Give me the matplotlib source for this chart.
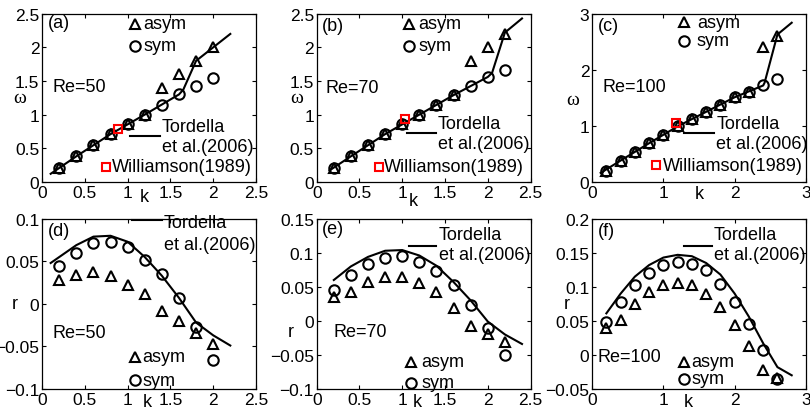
import matplotlib
matplotlib.use("Agg")
import matplotlib.pyplot as plt
from matplotlib.ticker import FuncFormatter

plt.rcParams['font.family'] = ['Liberation Sans', 'DejaVu Sans']
plt.rcParams['font.size'] = 13
plt.rcParams['axes.unicode_minus'] = True

# ---- top row: omega(k) ----
k_a = [0.2, 0.4, 0.6, 0.8, 1.0, 1.2, 1.4, 1.6, 1.8, 2.0]
w_sym_a = [0.2, 0.38, 0.55, 0.71, 0.86, 1.0, 1.15, 1.3, 1.43, 1.55]
w_asym_a = [0.2, 0.38, 0.55, 0.71, 0.86, 1.0, 1.4, 1.6, 1.8, 2.0]
k_line_a = [0.1, 0.4, 0.8, 1.2, 1.6, 1.65, 1.8, 2.0, 2.2]
w_line_a = [0.12, 0.38, 0.71, 1.0, 1.3, 1.37, 1.8, 2.0, 2.2]
will_a = (0.89, 0.78)

k_b = [0.2, 0.4, 0.6, 0.8, 1.0, 1.2, 1.4, 1.6, 1.8, 2.0, 2.2]
w_sym_b = [0.2, 0.39, 0.55, 0.71, 0.86, 1.0, 1.14, 1.29, 1.43, 1.56, 1.67]
w_asym_b = [0.2, 0.39, 0.55, 0.71, 0.86, 1.0, 1.14, 1.29, 1.8, 2.0, 2.2]
k_line_b = [0.15, 0.4, 0.8, 1.2, 1.6, 2.0, 2.05, 2.2, 2.4]
w_line_b = [0.17, 0.38, 0.71, 1.0, 1.29, 1.56, 1.62, 2.22, 2.43]
will_b = (1.03, 0.93)

k_c = [0.2, 0.4, 0.6, 0.8, 1.0, 1.2, 1.4, 1.6, 1.8, 2.0, 2.2, 2.4, 2.6]
w_sym_c = [0.2, 0.38, 0.54, 0.69, 0.84, 0.99, 1.12, 1.25, 1.37, 1.51, 1.61, 1.72, 1.83]
w_asym_c = [0.2, 0.38, 0.54, 0.69, 0.84, 0.99, 1.12, 1.25, 1.37, 1.51, 1.61, 2.4, 2.6]
k_line_c = [0.12, 0.4, 0.8, 1.2, 1.6, 2.0, 2.4, 2.42, 2.6, 2.8]
w_line_c = [0.16, 0.38, 0.69, 0.99, 1.25, 1.51, 1.72, 1.77, 2.63, 2.84]
will_c = (1.18, 1.05)

# ---- bottom row: r(k) ----
k_d = [0.2, 0.4, 0.6, 0.8, 1.0, 1.2, 1.4, 1.6, 1.8, 2.0]
r_sym_d = [0.044, 0.06, 0.071, 0.073, 0.067, 0.052, 0.035, 0.007, -0.027, -0.066]
r_asym_d = [0.028, 0.034, 0.037, 0.033, 0.022, 0.011, -0.008, -0.02, -0.034, -0.047]
k_line_d = [0.1, 0.2, 0.4, 0.6, 0.8, 1.0, 1.2, 1.4, 1.6, 1.8, 2.0, 2.2]
r_line_d = [0.048, 0.055, 0.069, 0.079, 0.08, 0.073, 0.055, 0.033, 0.007,
            -0.022, -0.037, -0.049]

k_e = [0.2, 0.4, 0.6, 0.8, 1.0, 1.2, 1.4, 1.6, 1.8, 2.0, 2.2]
r_sym_e = [0.045, 0.067, 0.083, 0.093, 0.095, 0.087, 0.073, 0.052, 0.024, -0.011, -0.05]
r_asym_e = [0.035, 0.042, 0.057, 0.064, 0.065, 0.056, 0.042, 0.019, -0.008, -0.02, -0.031]
k_line_e = [0.2, 0.4, 0.6, 0.8, 1.0, 1.2, 1.4, 1.6, 1.8, 2.0, 2.2, 2.4]
r_line_e = [0.06, 0.08, 0.094, 0.103, 0.104, 0.096, 0.081, 0.057, 0.03,
            -0.001, -0.02, -0.034]

k_f = [0.2, 0.4, 0.6, 0.8, 1.0, 1.2, 1.4, 1.6, 1.8, 2.0, 2.2, 2.4, 2.6]
r_sym_f = [0.049, 0.077, 0.103, 0.121, 0.132, 0.137, 0.134, 0.124, 0.104,
           0.077, 0.045, 0.007, -0.035]
r_asym_f = [0.039, 0.051, 0.075, 0.092, 0.102, 0.106, 0.102, 0.09, 0.071,
            0.044, 0.013, -0.022, -0.034]
k_line_f = [0.2, 0.4, 0.6, 0.8, 1.0, 1.2, 1.4, 1.6, 1.8, 2.0, 2.2, 2.4, 2.6, 2.8]
r_line_f = [0.061, 0.09, 0.115, 0.132, 0.143, 0.147, 0.145, 0.135, 0.118,
            0.09, 0.056, 0.017, -0.018, -0.03]

MS = 7.5
fmt = FuncFormatter(lambda v, p: ('%g' % round(v, 3)).replace('-', '\u2212'))


def setup_axes(ax, xlim, xticks, ylim, yticks):
    ax.set_xlim(xlim)
    ax.set_ylim(ylim)
    ax.set_xticks(xticks)
    ax.set_yticks(yticks)
    ax.xaxis.set_major_formatter(fmt)
    ax.yaxis.set_major_formatter(fmt)
    ax.tick_params(direction='in', length=3, width=0.8, top=True, right=True,
                   labelsize=12.5, pad=2)
    for s in ax.spines.values():
        s.set_linewidth(0.9)


def draw_points(ax, k, sym, asym, kl, vl):
    ax.plot(kl, vl, '-', color='k', lw=1.5, zorder=2)
    ax.plot(k, asym, '^', mfc='none', mec='k', mew=1.5, ms=MS, zorder=3)
    ax.plot(k, sym, 'o', mfc='none', mec='k', mew=1.5, ms=MS, zorder=3)


def legend_marks(ax, tri, circ, text_x):
    t = ax.transAxes
    ax.plot([tri[0]], [tri[1]], '^', mfc='none', mec='k', mew=1.5, ms=MS,
            transform=t, clip_on=False)
    ax.plot([circ[0]], [circ[1]], 'o', mfc='none', mec='k', mew=1.5, ms=MS,
            transform=t, clip_on=False)
    ax.text(text_x, tri[1], 'asym', transform=t, va='center', ha='left')
    ax.text(text_x, circ[1], 'sym', transform=t, va='center', ha='left')


def legend_line(ax, x0, x1, y, tx, ty1, ty2):
    t = ax.transAxes
    ax.plot([x0, x1], [y, y], '-', color='k', lw=1.5, transform=t, clip_on=False)
    ax.text(tx, ty1, 'Tordella', transform=t, va='center', ha='left')
    ax.text(tx, ty2, 'et al.(2006)', transform=t, va='center', ha='left')


def legend_will(ax, x, y, tx):
    t = ax.transAxes
    ax.plot([x], [y], 's', mfc='none', mec='red', mew=1.5, ms=6, transform=t,
            clip_on=False)
    ax.text(tx, y, 'Williamson(1989)', transform=t, va='center', ha='left')


def labels(ax, ylab, ypos, xpos):
    if ylab == 'w':
        ax.set_ylabel('\u03c9', rotation=0, ha='center', va='center',
                      family=['Liberation Serif', 'DejaVu Serif'], fontsize=14)
    else:
        ax.set_ylabel('r', rotation=0, ha='center', va='center')
    ax.yaxis.set_label_coords(*ypos)
    ax.set_xlabel('k', ha='center', va='center')
    ax.xaxis.set_label_coords(*xpos)


fig = plt.figure(figsize=(8.1, 4.1), dpi=100)
lefts = [0.052, 0.391, 0.731]
w = 0.264
top_rows = [0.554, 0.41]
bot_rows = [0.049, 0.415]

axes_top = [fig.add_axes([l, top_rows[0], w, top_rows[1]]) for l in lefts]
axes_bot = [fig.add_axes([l, bot_rows[0], w, bot_rows[1]]) for l in lefts]

# (a)
ax = axes_top[0]
setup_axes(ax, (0, 2.5), [0, 0.5, 1, 1.5, 2, 2.5], (0, 2.5), [0, 0.5, 1, 1.5, 2, 2.5])
draw_points(ax, k_a, w_sym_a, w_asym_a, k_line_a, w_line_a)
ax.plot([will_a[0]], [will_a[1]], 's', mfc='none', mec='red', mew=1.5, ms=6, zorder=4)
legend_marks(ax, (0.435, 0.94), (0.435, 0.81), 0.475)
legend_line(ax, 0.41, 0.55, 0.27, 0.56, 0.33, 0.21)
legend_will(ax, 0.30, 0.09, 0.325)
ax.text(0.025, 0.95, '(a)', transform=ax.transAxes, va='center')
ax.text(0.05, 0.57, 'Re=50', transform=ax.transAxes, va='center')
labels(ax, 'w', (-0.105, 0.50), (0.477, -0.09))

# (b)
ax = axes_top[1]
setup_axes(ax, (0, 2.5), [0, 0.5, 1, 1.5, 2, 2.5], (0, 2.5), [0, 0.5, 1, 1.5, 2, 2.5])
draw_points(ax, k_b, w_sym_b, w_asym_b, k_line_b, w_line_b)
ax.plot([will_b[0]], [will_b[1]], 's', mfc='none', mec='red', mew=1.5, ms=6, zorder=4)
legend_marks(ax, (0.43, 0.94), (0.43, 0.81), 0.475)
legend_line(ax, 0.42, 0.56, 0.29, 0.565, 0.35, 0.23)
legend_will(ax, 0.29, 0.09, 0.315)
ax.text(0.025, 0.93, '(b)', transform=ax.transAxes, va='center')
ax.text(0.04, 0.56, 'Re=70', transform=ax.transAxes, va='center')
labels(ax, 'w', (-0.095, 0.50), (0.45, -0.11))

# (c)
ax = axes_top[2]
setup_axes(ax, (0, 3), [0, 1, 2, 3], (0, 3), [0, 1, 2, 3])
draw_points(ax, k_c, w_sym_c, w_asym_c, k_line_c, w_line_c)
ax.plot([will_c[0]], [will_c[1]], 's', mfc='none', mec='red', mew=1.5, ms=6, zorder=4)
legend_marks(ax, (0.43, 0.95), (0.43, 0.84), 0.49)
legend_line(ax, 0.43, 0.57, 0.29, 0.58, 0.35, 0.23)
legend_will(ax, 0.30, 0.10, 0.33)
ax.text(0.025, 0.93, '(c)', transform=ax.transAxes, va='center')
ax.text(0.05, 0.57, 'Re=100', transform=ax.transAxes, va='center')
labels(ax, 'w', (-0.09, 0.49), (0.50, -0.07))

# (d)
ax = axes_bot[0]
setup_axes(ax, (0, 2.5), [0, 0.5, 1, 1.5, 2, 2.5], (-0.1, 0.1), [-0.1, -0.05, 0, 0.05, 0.1])
draw_points(ax, k_d, r_sym_d, r_asym_d, k_line_d, r_line_d)
legend_line(ax, 0.42, 0.56, 0.99, 0.57, 0.98, 0.85)
legend_marks(ax, (0.435, 0.19), (0.435, 0.05), 0.47)
ax.text(0.025, 0.93, '(d)', transform=ax.transAxes, va='center')
ax.text(0.05, 0.33, 'Re=50', transform=ax.transAxes, va='center')
labels(ax, 'r', (-0.13, 0.5), (0.49, -0.075))

# (e)
ax = axes_bot[1]
setup_axes(ax, (0, 2.5), [0, 0.5, 1, 1.5, 2, 2.5], (-0.1, 0.15),
           [-0.1, -0.05, 0, 0.05, 0.1, 0.15])
draw_points(ax, k_e, r_sym_e, r_asym_e, k_line_e, r_line_e)
legend_line(ax, 0.43, 0.56, 0.84, 0.57, 0.91, 0.79)
legend_marks(ax, (0.44, 0.16), (0.44, 0.035), 0.49)
ax.text(0.025, 0.94, '(e)', transform=ax.transAxes, va='center')
ax.text(0.08, 0.34, 'Re=70', transform=ax.transAxes, va='center')
labels(ax, 'r', (-0.12, 0.34), (0.47, -0.075))

# (f)
ax = axes_bot[2]
setup_axes(ax, (0, 3), [0, 1, 2, 3], (-0.05, 0.2), [-0.05, 0, 0.05, 0.1, 0.15, 0.2])
draw_points(ax, k_f, r_sym_f, r_asym_f, k_line_f, r_line_f)
legend_line(ax, 0.43, 0.56, 0.84, 0.57, 0.91, 0.79)
legend_marks(ax, (0.43, 0.16), (0.43, 0.06), 0.465)
ax.text(0.025, 0.93, '(f)', transform=ax.transAxes, va='center')
ax.text(0.025, 0.19, 'Re=100', transform=ax.transAxes, va='center')
labels(ax, 'r', (-0.12, 0.5), (0.45, -0.075))

fig.savefig('out.png', dpi=100)
